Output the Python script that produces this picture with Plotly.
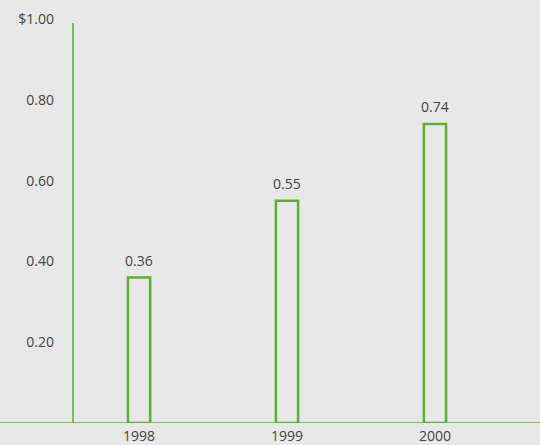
import plotly.graph_objects as go

years = [1998, 1999, 2000]
values = [0.36, 0.55, 0.74]
value_labels = ["0.36", "0.55", "0.74"]
ytick_vals = [0.2, 0.4, 0.6, 0.8, 1.0]
ytick_text = ["0.20", "0.40", "0.60", "0.80", "$1.00"]

GREEN = "#5ab031"
BG = "#e8e8e8"
TXT = "#444444"
FONT = "Open Sans"

fig = go.Figure()
fig.add_trace(go.Bar(
    x=years, y=values, width=0.15,
    marker=dict(color="rgba(0,0,0,0)", line=dict(color=GREEN, width=2.5)),
    hoverinfo="skip",
))

for xv, yv, lab in zip(years, values, value_labels):
    fig.add_annotation(x=xv, y=yv, text=lab, showarrow=False, yanchor="bottom",
                       yshift=6, font=dict(family=FONT, size=14, color=TXT))

fig.add_shape(type="line", xref="paper", yref="y", x0=73 / 540, x1=73 / 540,
              y0=0, y1=0.99, line=dict(color=GREEN, width=1.5))
fig.add_shape(type="line", xref="paper", yref="y", x0=0, x1=1,
              y0=0, y1=0, line=dict(color=GREEN, width=1.5))

fig.update_layout(
    width=540, height=445,
    margin=dict(l=0, r=0, t=19, b=22, pad=0),
    paper_bgcolor=BG, plot_bgcolor=BG,
    font=dict(family=FONT, size=14, color=TXT),
    showlegend=False,
    xaxis=dict(
        range=[1997.06, 2000.71], tickvals=years, ticktext=[str(y) for y in years],
        showgrid=False, zeroline=False, showline=False,
        ticks="", ticklabelstandoff=3, tickfont=dict(family=FONT, size=14, color=TXT),
    ),
    yaxis=dict(
        range=[0, 1.0], tickvals=ytick_vals, ticktext=ytick_text,
        anchor="free", position=73 / 540,
        showgrid=False, zeroline=False, showline=False,
        ticks="", ticklabelstandoff=19, tickfont=dict(family=FONT, size=14, color=TXT),
    ),
)

fig.write_html("out.html")
